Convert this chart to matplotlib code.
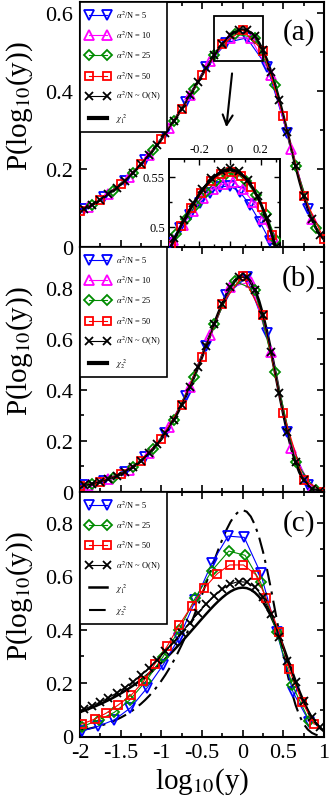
import numpy as np
import matplotlib
matplotlib.use('Agg')
import matplotlib.pyplot as plt
from matplotlib.ticker import MultipleLocator, FuncFormatter
from matplotlib.patches import Rectangle
from matplotlib.lines import Line2D

plt.rcParams['font.family'] = ['Liberation Serif', 'DejaVu Serif']
plt.rcParams['mathtext.fontset'] = 'stix'
plt.rcParams['axes.unicode_minus'] = False

# ---------------- data ----------------
curve_x = np.linspace(-2.0, 1.0, 61)
chi1_curve = [0.0914, 0.0968, 0.1024, 0.1084, 0.1147, 0.1214, 0.1285, 0.1359, 0.1438, 0.1521,
              0.1608, 0.1700, 0.1797, 0.1899, 0.2006, 0.2118, 0.2236, 0.2359, 0.2488, 0.2623,
              0.2763, 0.2909, 0.3061, 0.3217, 0.3379, 0.3544, 0.3714, 0.3886, 0.4061, 0.4236,
              0.4410, 0.4582, 0.4750, 0.4911, 0.5062, 0.5200, 0.5323, 0.5425, 0.5504, 0.5554,
              0.5572, 0.5553, 0.5493, 0.5388, 0.5236, 0.5035, 0.4785, 0.4487, 0.4147, 0.3769,
              0.3361, 0.2935, 0.2504, 0.2081, 0.1678, 0.1310, 0.0984, 0.0709, 0.0488, 0.0318,
              0.0196]
chi2_curve = [0.0228, 0.0255, 0.0286, 0.0321, 0.0359, 0.0402, 0.0450, 0.0504, 0.0564, 0.0631,
              0.0705, 0.0789, 0.0881, 0.0984, 0.1098, 0.1224, 0.1364, 0.1519, 0.1689, 0.1877,
              0.2084, 0.2309, 0.2556, 0.2824, 0.3115, 0.3428, 0.3763, 0.4121, 0.4499, 0.4896,
              0.5307, 0.5730, 0.6156, 0.6580, 0.6991, 0.7379, 0.7731, 0.8031, 0.8265, 0.8417,
              0.8471, 0.8413, 0.8232, 0.7921, 0.7480, 0.6917, 0.6247, 0.5495, 0.4692, 0.3875,
              0.3082, 0.2351, 0.1711, 0.1181, 0.0768, 0.0468, 0.0264, 0.0137, 0.0065, 0.0028,
              0.0010]

# marker positions for panels (a) and (b)
x_n5 = [-1.95, -1.70, -1.45, -1.20, -0.95, -0.70, -0.45, -0.20, 0.05, 0.30, 0.55, 0.80]
x_n10 = [-1.90, -1.65, -1.40, -1.15, -0.90, -0.65, -0.40, -0.15, 0.10, 0.35, 0.60, 0.85]
x_n25 = [-1.85, -1.60, -1.35, -1.10, -0.85, -0.60, -0.35, -0.10, 0.15, 0.40, 0.65, 0.90]
x_n50 = [-2.00, -1.75, -1.50, -1.25, -1.00, -0.75, -0.50, -0.25, 0.00, 0.25, 0.50, 0.75, 1.00]
x_nN = [-1.95, -1.85, -1.75, -1.65, -1.55, -1.45, -1.35, -1.25, -1.15, -1.05,
        -0.95, -0.85, -0.75, -0.65, -0.55, -0.45, -0.35, -0.25, -0.15, -0.05,
        0.05, 0.15, 0.25, 0.35, 0.45, 0.55, 0.65, 0.75, 0.85, 0.95]

# panel (a)
a_n5 = [0.097, 0.128, 0.170, 0.224, 0.291, 0.372, 0.461, 0.524, 0.536, 0.462, 0.291, 0.098]
a_n10 = [0.102, 0.136, 0.180, 0.236, 0.306, 0.389, 0.477, 0.537, 0.535, 0.440, 0.250, 0.071]
a_n25 = [0.108, 0.144, 0.190, 0.249, 0.322, 0.406, 0.493, 0.546, 0.537, 0.416, 0.208, 0.049]
a_n50 = [0.091, 0.121, 0.161, 0.212, 0.276, 0.354, 0.441, 0.520, 0.556, 0.503, 0.336, 0.131, 0.020]
a_nN = [0.097, 0.108, 0.121, 0.136, 0.152, 0.170, 0.190, 0.212, 0.236, 0.262,
        0.291, 0.322, 0.354, 0.389, 0.424, 0.458, 0.491, 0.521, 0.544, 0.557,
        0.557, 0.540, 0.505, 0.449, 0.377, 0.294, 0.208, 0.131, 0.071, 0.032]

# inset of panel (a)
ins_x_n5 = [-0.39, -0.325, -0.26, -0.195, -0.13, -0.065, 0.0, 0.065, 0.13, 0.195, 0.26]
ins_n5 = [0.484, 0.499, 0.512, 0.524, 0.534, 0.540, 0.541, 0.535, 0.522, 0.505, 0.486]
ins_x_n10 = [-0.37, -0.305, -0.24, -0.175, -0.11, -0.045, 0.02, 0.085, 0.15, 0.215, 0.28]
ins_n10 = [0.487, 0.502, 0.516, 0.529, 0.538, 0.543, 0.545, 0.538, 0.525, 0.508, 0.490]
ins_x_n25 = [-0.35, -0.285, -0.22, -0.155, -0.09, -0.025, 0.04, 0.105, 0.17, 0.235, 0.30]
ins_n25 = [0.493, 0.508, 0.522, 0.535, 0.546, 0.553, 0.554, 0.546, 0.532, 0.513, 0.487]
ins_x_n50 = [-0.38, -0.315, -0.25, -0.185, -0.12, -0.055, 0.01, 0.075, 0.14, 0.205, 0.27]
ins_n50 = [0.481, 0.501, 0.519, 0.534, 0.546, 0.553, 0.555, 0.551, 0.540, 0.520, 0.492]
ins_x_nN = [-0.36, -0.30, -0.24, -0.18, -0.12, -0.06, 0.0, 0.06, 0.12, 0.18, 0.24, 0.30]
ins_nN = [0.489, 0.507, 0.524, 0.538, 0.549, 0.556, 0.559, 0.556, 0.547, 0.531, 0.509, 0.480]

# panel (b)
b_n5 = [0.0256, 0.0450, 0.0789, 0.1364, 0.2309, 0.3763, 0.5730, 0.7731, 0.8413, 0.6247, 0.2351, 0.0264]
b_n10 = [0.0286, 0.0504, 0.0881, 0.1519, 0.2556, 0.4121, 0.6156, 0.8031, 0.8232, 0.5495, 0.1711, 0.0137]
b_n25 = [0.0321, 0.0564, 0.0984, 0.1689, 0.2824, 0.4499, 0.6580, 0.8265, 0.7921, 0.4692, 0.1181, 0.0065]
b_n50 = [0.0228, 0.0402, 0.0705, 0.1224, 0.2084, 0.3428, 0.5307, 0.7379, 0.8471, 0.6917, 0.3082, 0.0468, 0.0010]
b_nN = [0.0256, 0.0321, 0.0402, 0.0504, 0.0631, 0.0789, 0.0984, 0.1224, 0.1519, 0.1877,
        0.2309, 0.2824, 0.3428, 0.4121, 0.4896, 0.5730, 0.6580, 0.7379, 0.8031, 0.8417,
        0.8413, 0.7921, 0.6917, 0.5495, 0.3875, 0.2351, 0.1181, 0.0468, 0.0137, 0.0028]

# panel (c)
c_x_n5 = [-1.98, -1.78, -1.58, -1.38, -1.18, -0.98, -0.78, -0.58, -0.38, -0.18, 0.02, 0.22, 0.42, 0.62, 0.82]
c_n5 = [0.020, 0.038, 0.062, 0.107, 0.180, 0.267, 0.370, 0.510, 0.648, 0.750, 0.745, 0.612, 0.390, 0.165, 0.055]
c_x_n25 = [-1.98, -1.77, -1.58, -1.39, -1.19, -0.98, -0.78, -0.58, -0.38, -0.17, 0.03, 0.22, 0.42, 0.61, 0.82]
c_n25 = [0.036, 0.062, 0.090, 0.136, 0.207, 0.298, 0.400, 0.520, 0.620, 0.694, 0.678, 0.577, 0.390, 0.192, 0.058]
c_x_n50 = [-1.98, -1.82, -1.68, -1.53, -1.37, -1.22, -1.08, -0.93, -0.78, -0.625,
           -0.47, -0.31, -0.16, 0.01, 0.16, 0.29, 0.45, 0.57, 0.73, 0.88]
c_n50 = [0.046, 0.065, 0.087, 0.118, 0.155, 0.206, 0.271, 0.337, 0.417, 0.490,
         0.556, 0.610, 0.642, 0.642, 0.606, 0.517, 0.390, 0.252, 0.130, 0.046]
c_nN = [0.103, 0.115, 0.129, 0.145, 0.163, 0.183, 0.205, 0.229, 0.256, 0.286,
        0.319, 0.354, 0.389, 0.426, 0.462, 0.495, 0.526, 0.552, 0.571, 0.580,
        0.577, 0.559, 0.521, 0.459, 0.372, 0.284, 0.203, 0.131, 0.073, 0.034]

lab_n5 = r'$\alpha^2$/N = 5'
lab_n10 = r'$\alpha^2$/N = 10'
lab_n25 = r'$\alpha^2$/N = 25'
lab_n50 = r'$\alpha^2$/N = 50'
lab_nN = r'$\alpha^2$/N ~ O(N)'
lab_chi1 = r'$\chi_1^{\ 2}$'
lab_chi2 = r'$\chi_2^{\ 2}$'

BLUE, MAG, GREEN, RED = '#0000ff', '#ff00ff', '#008c00', '#ff0000'
ST = {
    'n5': dict(marker='v', color=BLUE, ms=6.5),
    'n10': dict(marker='^', color=MAG, ms=6.5),
    'n25': dict(marker='D', color=GREEN, ms=4.6),
    'n50': dict(marker='s', color=RED, ms=5.5),
    'nN': dict(marker='x', color='black', ms=5.5),
}


def series(ax, x, y, key, label, lw=0.8, z=3):
    s = ST[key]
    ln, = ax.plot(x, y, marker=s['marker'], color=s['color'], ms=s['ms'], mfc='none',
                  mec=s['color'], mew=1.3, lw=lw, label=label, zorder=z)
    return ln


def fmt(v, _):
    if abs(v) < 1e-9:
        return '0'
    return f'{v:g}'


def style_axes(ax, ylim, show_x):
    ax.set_xlim(-2, 1)
    ax.set_ylim(*ylim)
    ax.xaxis.set_major_locator(MultipleLocator(0.5))
    ax.xaxis.set_minor_locator(MultipleLocator(0.25))
    ax.yaxis.set_major_locator(MultipleLocator(0.2))
    ax.yaxis.set_minor_locator(MultipleLocator(0.1))
    ax.tick_params(which='both', direction='in', top=True, right=True, width=1.2)
    ax.tick_params(which='major', length=5, labelsize=16, pad=5)
    ax.tick_params(which='minor', length=3)
    ax.tick_params(axis='x', labelbottom=show_x)
    ax.xaxis.set_major_formatter(FuncFormatter(fmt))
    ax.yaxis.set_major_formatter(FuncFormatter(fmt))
    for s in ax.spines.values():
        s.set_linewidth(1.5)
    ax.set_ylabel(r'P(log$_{10}$(y))', fontsize=21)
    ax.yaxis.set_label_coords(-0.185, 0.58)


def legend(ax, handles):
    lg = ax.legend(handles=handles, loc='upper left', bbox_to_anchor=(0, 1), borderaxespad=0,
                   fancybox=False, edgecolor='black', framealpha=1, prop={'size': 6},
                   numpoints=2, handlelength=2.7, handletextpad=0.8, labelspacing=1.05,
                   borderpad=0.8)
    lg.get_frame().set_linewidth(1.2)
    lg.set_zorder(10)
    return lg


fig = plt.figure(figsize=(3.32, 8.04), dpi=100)
L, W = 80 / 332, 244 / 332
axA = fig.add_axes([L, 1 - 248 / 804, W, 245 / 804])
axB = fig.add_axes([L, 1 - 493 / 804, W, 245 / 804])
axC = fig.add_axes([L, 1 - 737.5 / 804, W, 244.5 / 804])

# ---------- panel (a) ----------
style_axes(axA, (0, 0.628), False)
axA.plot(curve_x, chi1_curve, color='black', lw=2.0, zorder=2)
h5 = series(axA, x_n5, a_n5, 'n5', lab_n5)
h10 = series(axA, x_n10, a_n10, 'n10', lab_n10)
h25 = series(axA, x_n25, a_n25, 'n25', lab_n25)
h50 = series(axA, x_n50, a_n50, 'n50', lab_n50)
hN = series(axA, x_nN, a_nN, 'nN', lab_nN, z=4)
hc1 = Line2D([], [], color='black', lw=3, label=lab_chi1)
legend(axA, [h5, h10, h25, h50, hN, hc1])
axA.text(0.965, 0.935, '(a)', transform=axA.transAxes, ha='right', va='top', fontsize=21)
axA.add_patch(Rectangle((-0.347, 0.478), 0.600, 0.115, fill=False, ec='black', lw=1.3, zorder=6))
axA.annotate('', xy=(-0.204, 0.300), xytext=(-0.127, 0.452),
             arrowprops=dict(arrowstyle='->', lw=1.5, color='black', mutation_scale=18))

# inset
axI = fig.add_axes([169 / 332, 1 - 248 / 804, 111 / 332, 88 / 804])
axI.set_zorder(5)
axI.set_xlim(-0.395, 0.325)
axI.set_ylim(0.48, 0.568)
axI.xaxis.set_major_locator(MultipleLocator(0.2))
axI.xaxis.set_minor_locator(MultipleLocator(0.1))
axI.yaxis.set_major_locator(MultipleLocator(0.05))
axI.yaxis.set_minor_locator(MultipleLocator(0.025))
axI.tick_params(which='both', direction='in', top=True, right=True, width=1.0,
                labeltop=True, labelbottom=False, labelsize=9, pad=3)
axI.tick_params(which='major', length=4)
axI.tick_params(which='minor', length=2.5)
axI.xaxis.set_major_formatter(FuncFormatter(fmt))
axI.yaxis.set_major_formatter(FuncFormatter(fmt))
for s in axI.spines.values():
    s.set_linewidth(1.4)
series(axI, ins_x_n5, ins_n5, 'n5', None)
series(axI, ins_x_n10, ins_n10, 'n10', None)
series(axI, ins_x_n25, ins_n25, 'n25', None)
series(axI, ins_x_n50, ins_n50, 'n50', None)
series(axI, ins_x_nN, ins_nN, 'nN', None)
axI.plot(curve_x, chi1_curve, color='black', lw=2.0, zorder=5)

# ---------- panel (b) ----------
style_axes(axB, (0, 0.96), False)
axB.plot(curve_x, chi2_curve, color='black', lw=2.2, zorder=2)
h5 = series(axB, x_n5, b_n5, 'n5', lab_n5)
h10 = series(axB, x_n10, b_n10, 'n10', lab_n10)
h25 = series(axB, x_n25, b_n25, 'n25', lab_n25)
h50 = series(axB, x_n50, b_n50, 'n50', lab_n50)
hN = series(axB, x_nN, b_nN, 'nN', lab_nN, z=4)
hc2 = Line2D([], [], color='black', lw=3, label=lab_chi2)
legend(axB, [h5, h10, h25, h50, hN, hc2])
axB.text(0.965, 0.93, '(b)', transform=axB.transAxes, ha='right', va='top', fontsize=21)

# ---------- panel (c) ----------
style_axes(axC, (0, 0.915), True)
lc1, = axC.plot(curve_x, chi1_curve, color='black', lw=1.8, zorder=2, label=lab_chi1)
lc2, = axC.plot(curve_x, chi2_curve, color='black', lw=1.5, ls=(0, (8, 3, 1.5, 3)),
                zorder=2, label=lab_chi2)
h5 = series(axC, c_x_n5, c_n5, 'n5', lab_n5)
h25 = series(axC, c_x_n25, c_n25, 'n25', lab_n25)
h50 = series(axC, c_x_n50, c_n50, 'n50', lab_n50)
hN = series(axC, x_nN, c_nN, 'nN', lab_nN, z=4)
legend(axC, [h5, h25, h50, hN, lc1, lc2])
axC.text(0.965, 0.93, '(c)', transform=axC.transAxes, ha='right', va='top', fontsize=21)
axC.set_xlabel(r'log$_{10}$(y)', fontsize=21, labelpad=2)

fig.savefig('out.png', dpi=100)
